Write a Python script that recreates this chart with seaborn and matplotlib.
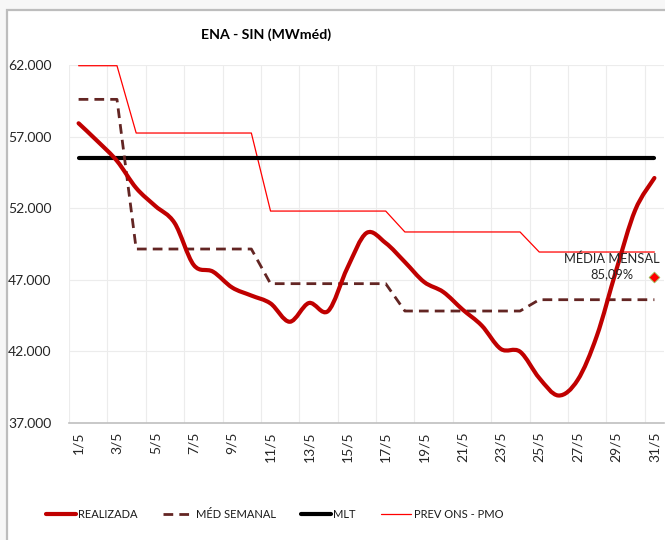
import matplotlib
matplotlib.use('Agg')
import matplotlib.pyplot as plt
from matplotlib.path import Path
from matplotlib.patches import PathPatch, Rectangle
from matplotlib.lines import Line2D
from matplotlib.ticker import FuncFormatter, FixedLocator
import seaborn as sns
import numpy as np
import pandas as pd

sns.set_style('white')
plt.rcParams['font.family'] = ['Lato', 'DejaVu Sans']

# dados (MWméd) - maio
dias = list(range(1, 32))
rotulos = [f'{d}/5' for d in dias]
realizada = [57930, 56660, 55300, 53410, 52150, 50970, 48030, 47570, 46460, 45900,
             45350, 44070, 45380, 44820, 47820, 50270, 49570, 48240, 46850, 46150,
             44930, 43810, 42170, 41980, 40140, 38920, 40000, 43080, 47620, 51870,
             54110]
med_semanal = [59600, 59600, 59600, 49150, 49150, 49150, 49150, 49150, 49150, 49150,
               46730, 46730, 46730, 46730, 46730, 46730, 46730, 44820, 44820, 44820,
               44820, 44820, 44820, 44820, 45610, 45610, 45610, 45610, 45610, 45610,
               45610]
prev_ons = [61950, 61950, 61950, 57250, 57250, 57250, 57250, 57250, 57250, 57250,
            51800, 51800, 51800, 51800, 51800, 51800, 51800, 50340, 50340, 50340,
            50340, 50340, 50340, 50340, 48940, 48940, 48940, 48940, 48940, 48940,
            48940]
mlt = 55500
media_mensal = 47170
media_pct = '85,09%'

df = pd.DataFrame({'dia': dias, 'realizada': realizada,
                   'med': med_semanal, 'prev': prev_ons})

fig = plt.figure(figsize=(6.65, 5.4), dpi=100, facecolor='#f7f7f7')
# area do grafico (borda cinza)
fig.patches.append(Rectangle((7 / 665, -0.1), 1.2, (540 - 10) / 540 + 0.1,
                             transform=fig.transFigure, facecolor='white',
                             edgecolor='#bdbdbd', linewidth=1.6, zorder=-5))
ax = fig.add_axes([69 / 665, 1 - 423 / 540, (664 - 69) / 665, (423 - 65) / 540])
ax.set_facecolor('white')

# linhas
sns.lineplot(data=df, x='dia', y='prev', ax=ax, color='#ff0000', lw=0.9, zorder=3)
sns.lineplot(x=[1, 31], y=[mlt, mlt], ax=ax, color='black', lw=3, zorder=4)
sns.lineplot(data=df, x='dia', y='med', ax=ax, color='#632523', lw=2, zorder=4)
ax.lines[-1].set_dashes([3.5, 2.2])

# realizada - curva suavizada (bezier tipo excel)
px = np.array(dias, dtype=float)
py = np.array(realizada, dtype=float)
verts = [(px[0], py[0])]
codes = [Path.MOVETO]
n = len(px)
for i in range(n - 1):
    p0 = np.array([px[max(i - 1, 0)], py[max(i - 1, 0)]])
    p1 = np.array([px[i], py[i]])
    p2 = np.array([px[i + 1], py[i + 1]])
    p3 = np.array([px[min(i + 2, n - 1)], py[min(i + 2, n - 1)]])
    c1 = p1 + (p2 - p0) / 6
    c2 = p2 - (p3 - p1) / 6
    verts += [tuple(c1), tuple(c2), tuple(p2)]
    codes += [Path.CURVE4] * 3
ax.add_patch(PathPatch(Path(verts, codes), fill=False, edgecolor='#c00000',
                       lw=3, capstyle='round', joinstyle='round', zorder=5))

# media mensal
ax.scatter([31], [media_mensal], marker='D', s=30, color='#ff0000',
           edgecolor='#9bbb59', linewidth=0.6, zorder=6)
ax.text(28.8, media_mensal + 800, 'MÉDIA MENSAL\n' + media_pct, ha='center',
        va='center', fontsize=9.3, color='#262626', linespacing=1.3, zorder=7)

# eixos
ax.set_xlim(0.5, 31.5)
ax.set_ylim(37000, 62000)
ax.set_yticks(np.arange(37000, 62001, 5000))
ax.yaxis.set_major_formatter(FuncFormatter(lambda v, p: f'{v:,.0f}'.replace(',', '.')))
ax.xaxis.set_major_locator(FixedLocator(np.arange(0.5, 31.6, 2)))
ax.xaxis.set_minor_locator(FixedLocator(dias[::2]))
ax.set_xticklabels([])
ax.set_xticklabels(rotulos[::2], minor=True, rotation=90)
ax.tick_params(axis='x', which='major', length=4, color='#bfbfbf', width=1)
ax.tick_params(axis='x', which='minor', length=0, pad=6, labelsize=10,
               labelcolor='#262626')
ax.tick_params(axis='y', length=0, pad=44, labelsize=10, labelcolor='#262626')
ax.grid(True, which='major', color='#ececec', lw=0.8)
for s in ['top', 'right', 'left']:
    ax.spines[s].set_visible(False)
ax.spines['bottom'].set_color('#bfbfbf')
ax.spines['bottom'].set_linewidth(1.2)
ax.set_xlabel('')
ax.set_ylabel('')
for lab in ax.get_yticklabels():
    lab.set_horizontalalignment('left')

fig.text(266 / 665, 1 - 35 / 540, 'ENA - SIN (MWméd)', ha='center', va='center',
         fontsize=10.2, fontweight='bold', color='black')

handles = [Line2D([], [], color='#c00000', lw=3),
           Line2D([], [], color='#632523', lw=2, dashes=[3.5, 2.2]),
           Line2D([], [], color='black', lw=3),
           Line2D([], [], color='#ff0000', lw=0.9)]
labels = ['REALIZADA', 'MÉD SEMANAL', 'MLT', 'PREV ONS - PMO']
fig.legend(handles, labels, loc='center left', bbox_to_anchor=(36 / 665, 1 - 514 / 540),
           ncol=4, frameon=False, handlelength=2.7, fontsize=8,
           handletextpad=0.2, columnspacing=2.3, labelcolor='#1a1a1a')

fig.savefig('out.png', dpi=100, facecolor=fig.get_facecolor())
